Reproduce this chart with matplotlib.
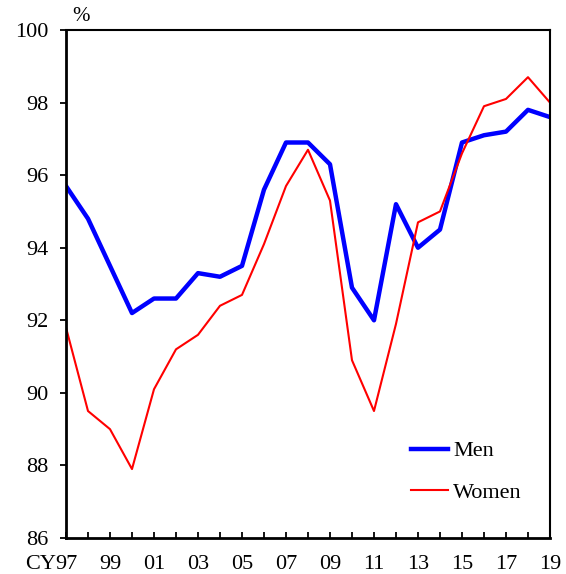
import matplotlib
matplotlib.use("Agg")
import matplotlib.pyplot as plt
import matplotlib.transforms as mtransforms

plt.rcParams['font.family'] = ['Liberation Serif', 'DejaVu Serif']
plt.rcParams['font.size'] = 16

# Calendar years 1997-2019
years = list(range(1997, 2020))
men = [95.7, 94.8, 93.5, 92.2, 92.6, 92.6, 93.3, 93.2, 93.5, 95.6, 96.9, 96.9,
       96.3, 92.9, 92.0, 95.2, 94.0, 94.5, 96.9, 97.1, 97.2, 97.8, 97.6]
women = [91.8, 89.5, 89.0, 87.9, 90.1, 91.2, 91.6, 92.4, 92.7, 94.1, 95.7, 96.7,
         95.3, 90.9, 89.5, 91.9, 94.7, 95.0, 96.6, 97.9, 98.1, 98.7, 98.0]
label_years = list(range(1997, 2020, 2))
y_ticks = [86, 88, 90, 92, 94, 96, 98, 100]

fig = plt.figure(figsize=(5.66, 5.74), dpi=100)
ax = fig.add_axes([0.1166, 0.0627, 0.8551, 0.885])

ax.plot(years, men, color='#0000ff', lw=3.2, label='Men')
ax.plot(years, women, color='#ff0000', lw=1.5, label='Women')

ax.set_xlim(1997, 2019)
ax.set_ylim(86, 100)
ax.set_yticks(y_ticks)
ax.set_xticks(years)
ax.set_xticklabels([f"{y % 100:02d}" if y in label_years else "" for y in years])

for s in ax.spines.values():
    s.set_linewidth(1.5)
    s.set_color('black')
ax.spines['left'].set_linewidth(2)
ax.spines['bottom'].set_linewidth(2)

xpad = 12.5
ax.tick_params(axis='x', direction='in', length=4.5, width=1.3, pad=xpad)
ax.tick_params(axis='y', direction='out', length=4.5, width=1.3, pad=8)

# "CY" prefix before the first year label, on the tick-label row
trans = mtransforms.blended_transform_factory(ax.transData, ax.transAxes)
cy_trans = trans + mtransforms.ScaledTranslation(0, -xpad / 72, fig.dpi_scale_trans)
ax.text(1996.53, 0, "CY", transform=cy_trans, ha='right', va='top', fontsize=16)
ax.text(1997.7, 1.008, "%", transform=trans, ha='center', va='bottom', fontsize=15)

ax.legend(loc='center left', bbox_to_anchor=(0.713, 0.13), frameon=False,
          borderpad=0, borderaxespad=0, handlelength=1.65, handletextpad=0.25,
          labelspacing=0.95, fontsize=16)

fig.savefig("out.png", dpi=100)
